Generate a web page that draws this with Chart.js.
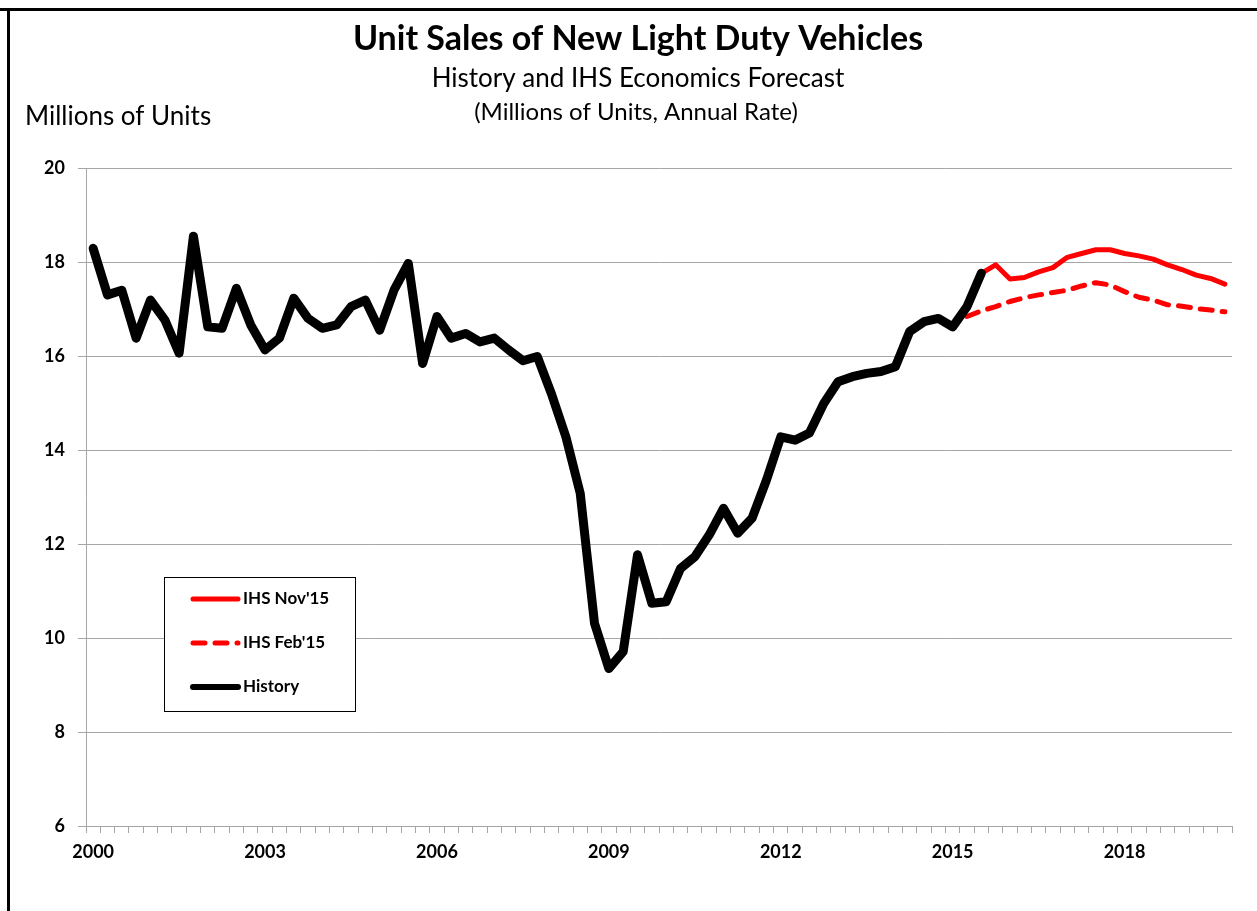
<!DOCTYPE html>
<html>
<head>
<meta charset="utf-8">
<script src="https://cdn.jsdelivr.net/npm/chart.js@4"></script>
<style>
  html, body { margin: 0; padding: 0; background: #fff; }
  #wrap { width: 1257px; height: 911px; position: relative; }
</style>
</head>
<body>
<div id="wrap"><canvas id="salesChart"></canvas></div>
<script>
// quarterly categories, 2000Q1 - 2019Q4
var years = [2000, 2001, 2002, 2003, 2004, 2005, 2006, 2007, 2008, 2009,
             2010, 2011, 2012, 2013, 2014, 2015, 2016, 2017, 2018, 2019];
var quarterNames = ['Q1', 'Q2', 'Q3', 'Q4'];
var labels = [];
years.forEach(function (y) {
  quarterNames.forEach(function (q) { labels.push(y + q); });
});

var yTicks = [6, 8, 10, 12, 14, 16, 18, 20];

// History, 2000Q1 - 2015Q3 (millions of units, annual rate)
var historySales = [
  18.29, 17.30, 17.40, 16.38, 17.19, 16.77, 16.06, 18.55,
  16.62, 16.59, 17.44, 16.66, 16.13, 16.38, 17.23, 16.80,
  16.59, 16.66, 17.05, 17.19, 16.55, 17.40, 17.97, 15.84,
  16.84, 16.38, 16.48, 16.30, 16.38, 16.13, 15.90, 15.99,
  15.19, 14.28, 13.08, 10.31, 9.35, 9.71, 11.77, 10.74,
  10.77, 11.48, 11.73, 12.19, 12.76, 12.23, 12.55, 13.36,
  14.28, 14.21, 14.36, 14.99, 15.45, 15.56, 15.63, 15.67,
  15.77, 16.52, 16.73, 16.80, 16.62, 17.05, 17.76
];

// IHS Nov'15 forecast, 2015Q3 - 2019Q4
var nov15 = [
  17.76, 17.94, 17.64, 17.67, 17.79, 17.88, 18.10, 18.18, 18.26,
  18.26, 18.18, 18.13, 18.06, 17.94, 17.84, 17.72, 17.65, 17.53
];

// IHS Feb'15 forecast, 2015Q2 - 2019Q4
var feb15 = [
  16.84, 16.96, 17.05, 17.16, 17.24, 17.30, 17.35, 17.40, 17.49, 17.56,
  17.51, 17.37, 17.25, 17.19, 17.09, 17.06, 17.01, 16.98, 16.94
];

function pad(vals, start) {
  var out = [];
  for (var i = 0; i < labels.length; i++) {
    var k = i - start;
    out.push(k >= 0 && k < vals.length ? vals[k] : null);
  }
  return out;
}

var gridGray = '#a6a6a6';

// frame + titles
var headerText = {
  id: 'headerText',
  beforeDraw: function (chart) {
    var ctx = chart.ctx;
    ctx.save();
    ctx.fillStyle = '#fff';
    ctx.fillRect(0, 0, chart.width, chart.height);
    ctx.fillStyle = '#000';
    ctx.fillRect(0, 8, chart.width, 3);
    ctx.fillRect(7, 8, 3, chart.height);
    ctx.textBaseline = 'middle';
    ctx.textAlign = 'center';
    ctx.font = 'bold 34px Lato';
    ctx.fillText('Unit Sales of New Light Duty Vehicles', 638, 39);
    ctx.font = '26px Lato';
    ctx.fillText('History and IHS Economics Forecast', 638, 79);
    ctx.font = '24px Lato';
    ctx.fillText('(Millions of Units, Annual Rate)', 636, 112);
    ctx.textAlign = 'left';
    ctx.font = '26px Lato';
    ctx.fillText('Millions of Units', 25, 117);
    ctx.restore();
  }
};

// boxed legend inside the plot
var legendBox = {
  id: 'legendBox',
  afterDatasetsDraw: function (chart) {
    var ctx = chart.ctx;
    var x0 = 164, y0 = 577, w = 191, h = 134;
    ctx.save();
    ctx.fillStyle = '#fff';
    ctx.fillRect(x0, y0, w, h);
    ctx.strokeStyle = '#000';
    ctx.lineWidth = 1;
    ctx.strokeRect(x0 + 0.5, y0 + 0.5, w, h);
    [0, 1, 2].forEach(function (di, row) {
      var ds = chart.data.datasets[di];
      var y = y0 + 22 + row * 44;
      ctx.beginPath();
      ctx.strokeStyle = ds.borderColor;
      ctx.lineWidth = Math.min(ds.borderWidth, 6);
      ctx.lineCap = 'round';
      ctx.setLineDash(ds.borderDash || []);
      ctx.moveTo(193, y);
      ctx.lineTo(238, y);
      ctx.stroke();
      ctx.setLineDash([]);
      ctx.fillStyle = '#000';
      ctx.font = 'bold 17px Lato';
      ctx.textBaseline = 'middle';
      ctx.textAlign = 'left';
      ctx.fillText(ds.label, 243, y);
    });
    ctx.restore();
  }
};

var data = {
  labels: labels,
  datasets: [
    {
      label: "IHS Nov'15",
      data: pad(nov15, 62),
      borderColor: '#ff0000',
      borderWidth: 5,
      order: 1
    },
    {
      label: "IHS Feb'15",
      data: pad(feb15, 61),
      borderColor: '#ff0000',
      borderWidth: 5,
      borderDash: [12, 10],
      order: 2
    },
    {
      label: 'History',
      data: pad(historySales, 0),
      borderColor: '#000000',
      borderWidth: 9,
      order: 0
    }
  ]
};

var config = {
  type: 'line',
  data: data,
  plugins: [headerText, legendBox],
  options: {
    responsive: true,
    maintainAspectRatio: false,
    animation: false,
    spanGaps: false,
    layout: { padding: { left: 0, right: 25, top: 168, bottom: 0 } },
    elements: {
      point: { radius: 0, hoverRadius: 0 },
      line: { tension: 0, borderJoinStyle: 'round', borderCapStyle: 'round', fill: false }
    },
    plugins: {
      legend: { display: false },
      title: { display: false },
      tooltip: { enabled: false }
    },
    scales: {
      x: {
        type: 'category',
        offset: true,
        afterFit: function (s) { s.height = 85; },
        grid: {
          offset: true,
          drawOnChartArea: false,
          drawTicks: true,
          tickLength: 7,
          color: gridGray
        },
        border: { color: gridGray, width: 1 },
        ticks: {
          autoSkip: false,
          maxRotation: 0,
          minRotation: 0,
          padding: 8,
          color: '#000',
          font: { family: 'Lato', weight: 'bold', size: 18 },
          callback: function (v, i) {
            return i % 12 === 0 ? this.getLabelForValue(v).slice(0, 4) : '';
          }
        }
      },
      y: {
        min: 6,
        max: 20,
        afterFit: function (s) { s.width = 86; },
        afterBuildTicks: function (s) {
          s.ticks = yTicks.map(function (v) { return { value: v }; });
        },
        grid: { color: gridGray, tickLength: 8, lineWidth: 1 },
        border: { color: gridGray, width: 1 },
        ticks: {
          padding: 13,
          color: '#000',
          font: { family: 'Lato', weight: 'bold', size: 18 }
        }
      }
    }
  }
};

var salesChart = new Chart(document.getElementById('salesChart'), config);
</script>
</body>
</html>
